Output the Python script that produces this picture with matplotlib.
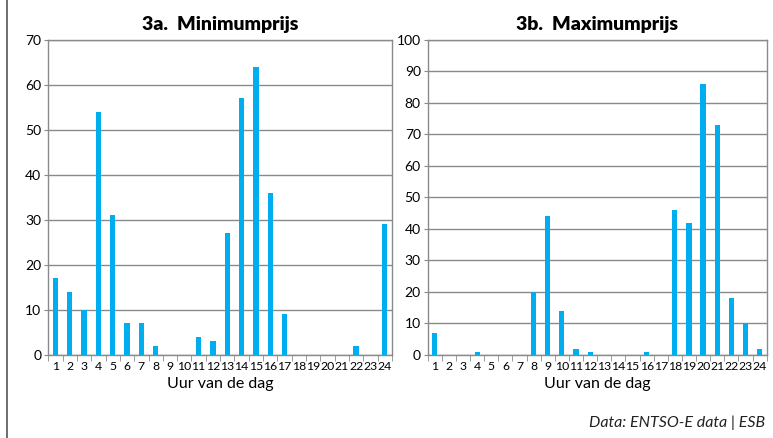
import numpy as np
import matplotlib
matplotlib.use("Agg")
import matplotlib.pyplot as plt

plt.rcParams['font.family'] = ['Lato', 'DejaVu Sans']

uren = list(range(1, 25))
min_prijs = [17, 14, 10, 54, 31, 7, 7, 2, 0, 0, 4, 3, 27, 57, 64, 36, 9, 0, 0, 0, 0, 2, 0, 29]
max_prijs = [7, 0, 0, 1, 0, 0, 0, 20, 44, 14, 2, 1, 0, 0, 0, 1, 0, 46, 42, 86, 73, 18, 10, 2]
titels = ["3a.  Minimumprijs", "3b.  Maximumprijs"]
y_max = [70, 100]
bron = "Data: ENTSO-E data | ESB"

blauw = "#00AEEF"
grijs = "#8a8a8a"

fig = plt.figure(figsize=(7.73, 4.38), dpi=100)
ax1 = fig.add_axes([0.0625, 0.1895, 0.4445, 0.7192])
ax2 = fig.add_axes([0.5533, 0.1895, 0.4385, 0.7192])

for ax, waarden, titel, ym in zip([ax1, ax2], [min_prijs, max_prijs], titels, y_max):
    ax.bar(uren, waarden, width=0.37, color=blauw, zorder=3)
    ax.set_xlim(0.77, 24.19)
    ax.set_ylim(0, ym)
    ax.set_yticks(np.arange(0, ym + 1, 10))
    ax.yaxis.grid(True, color=grijs, linewidth=1.0, zorder=0)
    for s in ax.spines.values():
        s.set_color(grijs)
        s.set_linewidth(1.0)
    ax.set_xticks(uren)
    ax.set_xticklabels([str(u) for u in uren], fontsize=8.8)
    ax.set_xticks(np.arange(0.5, 24.6, 1.0), minor=True)
    ax.tick_params(axis='x', which='major', length=0, pad=4)
    ax.tick_params(axis='x', which='minor', length=4, color=grijs)
    ax.tick_params(axis='y', length=3, color=grijs, labelsize=10, pad=2)
    ax.set_xlabel("Uur van de dag", fontsize=11.5, labelpad=4)
    ax.set_title(titel, fontsize=14, fontweight='heavy', pad=7)

# kader links
fig.add_artist(plt.Line2D([0.009, 0.009], [0, 1], color="#555555", linewidth=1.2))

fig.text(0.99, 0.035, bron, ha='right', va='center', fontsize=11.5, style='italic', color="#222222")

fig.savefig("out.png", dpi=100)
